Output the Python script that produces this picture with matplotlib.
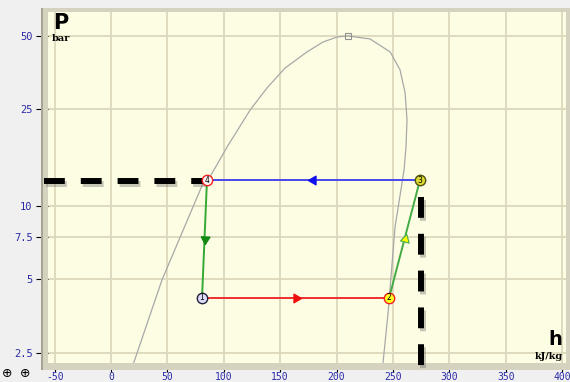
import math

import matplotlib
matplotlib.use("Agg")
import matplotlib.pyplot as plt
import matplotlib.patheffects as pe
from matplotlib.patches import Rectangle

# saturation dome (h in kJ/kg, P in bar)
DOME_H = [19.5, 45.2, 82.5, 87.8, 102.9, 123.3, 138.4, 154.3, 173.8, 188.0, 200.4, 210.2,
          229.7, 247.5, 256.3, 260.8, 262.5, 261.6, 259.9, 251.9, 245.7, 241.2]
DOME_P = [2.23, 4.98, 12.7, 13.2, 17.5, 24.8, 30.6, 36.9, 43.0, 47.2, 49.5, 50.0,
          48.6, 43.0, 36.3, 29.2, 22.6, 17.5, 14.1, 8.22, 3.65, 2.27]
CRIT_H, CRIT_P = 210.2, 50.0

# cycle states 1..4
STATE_LABELS = ["1", "2", "3", "4"]
STATE_H = [80.7, 246.6, 274.0, 85.1]
STATE_P = [4.2, 4.2, 12.8, 12.8]

# dashed guide lines (condensing pressure / compressor outlet enthalpy)
GUIDE_H_LINE = ([-59.4, 84.0], [12.7, 12.7])
GUIDE_V_LINE = ([275.0, 275.0], [10.9, 2.13])

X_TICKS = [-50, 0, 50, 100, 150, 200, 250, 300, 350, 400]
Y_TICKS = [2.5, 5, 7.5, 10, 25, 50]
Y_TICK_LABELS = ["2.5", "5", "7.5", "10", "25", "50"]

BEIGE = "#fdfde4"
BORDER = "#d6d2c0"
GRID = "#dcd8bc"
TICK_BLUE = "#2a2aa8"

plt.rcParams["lines.scale_dashes"] = False

fig = plt.figure(figsize=(5.7, 3.82), dpi=100, facecolor="#f0f0f0")
W, H = 570.0, 382.0
ax = fig.add_axes([48 / W, 1 - 363 / H, 518 / W, 351 / H])
ax.set_facecolor(BEIGE)
ax.set_yscale("log")
ax.set_xlim(-55.9, 403.5)
ax.set_ylim(2.27, 62.7)

ax.set_xticks(X_TICKS)
ax.set_xticklabels([str(t) for t in X_TICKS])
ax.set_yticks(Y_TICKS)
ax.set_yticklabels(Y_TICK_LABELS)
ax.minorticks_off()
ax.tick_params(axis="both", colors="black", labelcolor=TICK_BLUE, width=0.8)
ax.tick_params(axis="y", length=8.6, pad=2.5, labelsize=7.5)
ax.tick_params(axis="x", length=6.2, pad=0.3, labelsize=7)
for lbl in ax.get_xticklabels() + ax.get_yticklabels():
    lbl.set_family("DejaVu Sans Mono")
for s in ax.spines.values():
    s.set_visible(False)
ax.grid(True, color=GRID, linewidth=1.3)
ax.set_axisbelow(True)


# grey frame around the plotting area, drawn above the tick marks
def frame_rect(x0, y0, x1, y1, color):
    ax.add_patch(Rectangle((x0 / W, 1 - y1 / H), (x1 - x0) / W, (y1 - y0) / H,
                           transform=fig.transFigure, facecolor=color,
                           edgecolor="none", clip_on=False, zorder=3))


frame_rect(41, 8, 48, 370, BORDER)
frame_rect(41, 8, 570, 12, BORDER)
frame_rect(566, 8, 570, 370, BORDER)
frame_rect(41, 363, 570, 370, BORDER)
frame_rect(41, 8, 42.5, 370, "#a8a494")

# saturation dome
ax.plot(DOME_H, DOME_P, color="#a8a8a8", linewidth=0.9, zorder=2)
ax.plot([CRIT_H], [CRIT_P], marker="s", markersize=5, markerfacecolor="none",
        markeredgecolor="#909090", markeredgewidth=0.8, zorder=2)

# thick dashed guides with a soft shadow
shadow = [pe.SimpleLineShadow(offset=(1.2, -2.2), shadow_color="#606060", alpha=0.35),
          pe.Normal()]
for xs, ys in (GUIDE_H_LINE, GUIDE_V_LINE):
    ax.plot(xs, ys, color="black", linewidth=4.3, linestyle=(0, (15, 11.5)),
            solid_capstyle="butt", clip_on=False, zorder=4, path_effects=shadow)

# cycle segments: (from, to, line colour, arrow face, arrow edge)
segments = [
    (0, 1, "#ee3030", "#ee1010", "#ee1010"),
    (1, 2, "#44aa44", "#ffff00", "#44aa44"),
    (2, 3, "#4848ee", "#1010ee", "#1010ee"),
    (3, 0, "#33aa33", "#118811", "#118811"),
]
for i, j, lc, af, ae in segments:
    xs = [STATE_H[i], STATE_H[j]]
    ys = [STATE_P[i], STATE_P[j]]
    ax.plot(xs, ys, color=lc, linewidth=1.4, zorder=4)
    mx = (xs[0] + xs[1]) / 2
    my = 10 ** ((math.log10(ys[0]) + math.log10(ys[1])) / 2)
    p0 = ax.transData.transform((xs[0], ys[0]))
    p1 = ax.transData.transform((xs[1], ys[1]))
    ang = math.degrees(math.atan2(p1[1] - p0[1], p1[0] - p0[0])) - 90
    ax.plot([mx], [my], marker=(3, 0, ang), markersize=7.5, markerfacecolor=af,
            markeredgecolor=ae, markeredgewidth=0.8, zorder=5)

# state markers
marker_style = {
    "1": ("#dcdcf8", "#202040"),
    "2": ("#ffff20", "#ee2020"),
    "3": ("#dcdc30", "#505010"),
    "4": ("#fbf4f4", "#ee2020"),
}
for lbl, h, p in zip(STATE_LABELS, STATE_H, STATE_P):
    fc, ec = marker_style[lbl]
    ax.plot([h], [p], marker="o", markersize=7.5, markerfacecolor=fc,
            markeredgecolor=ec, markeredgewidth=1.0, zorder=6)
    ax.text(h, p, lbl, fontsize=5.5, ha="center", va="center", color="black", zorder=7)

# axis names inside the plot
ax.text(0.009, 0.951, "P", transform=ax.transAxes, fontsize=15, fontweight="bold",
        ha="left", va="baseline", zorder=5)
ax.text(0.008, 0.918, "bar", transform=ax.transAxes, fontsize=7, fontweight="bold",
        family="DejaVu Serif", ha="left", va="baseline", zorder=5)
ax.text(0.993, 0.05, "h", transform=ax.transAxes, fontsize=14, fontweight="bold",
        ha="right", va="baseline", zorder=5)
ax.text(0.995, 0.012, "kJ/kg", transform=ax.transAxes, fontsize=7, fontweight="bold",
        family="DejaVu Serif", ha="right", va="baseline", zorder=5)

# zoom buttons in the lower-left corner
fig.text(2 / W, 2 / H, "\u2295", fontsize=9, ha="left", va="bottom")
fig.text(20 / W, 2 / H, "\u2295", fontsize=9, ha="left", va="bottom")

fig.savefig("out.png", dpi=100, facecolor=fig.get_facecolor())
